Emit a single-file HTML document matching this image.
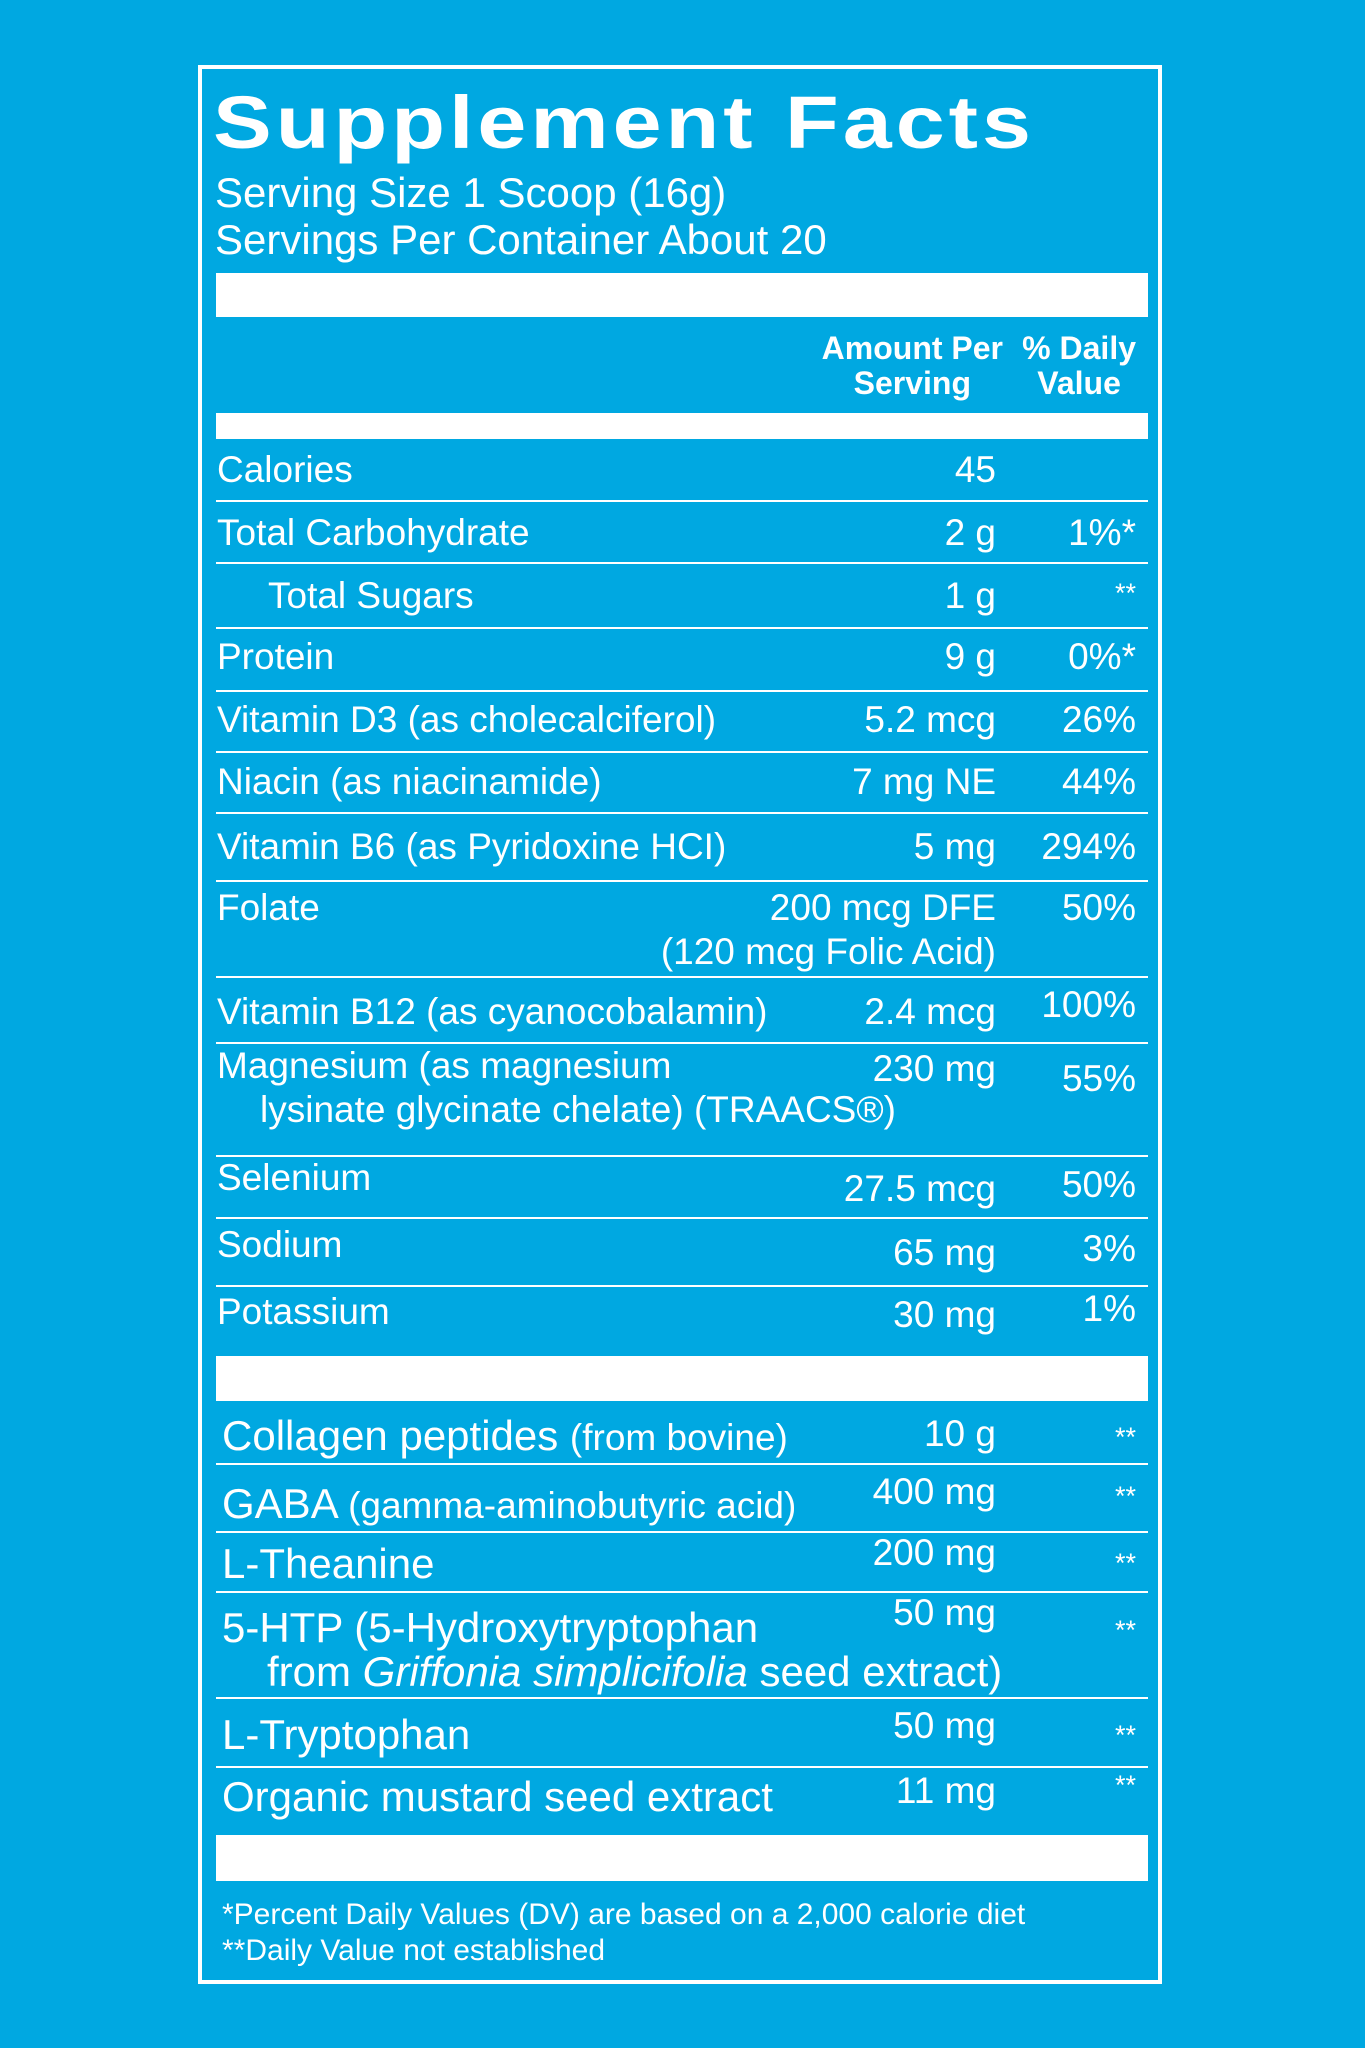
<!DOCTYPE html>
<html><head><meta charset="utf-8"><style>
html,body{margin:0;padding:0}
body{width:1365px;height:2048px;background:#00a8e1;position:relative;overflow:hidden;font-family:"Liberation Sans",Arial,sans-serif;color:#fff}
.frame{position:absolute;left:198px;top:65px;width:956px;height:1911px;border:4px solid #fff}
.bar{position:absolute;left:216px;width:932px;background:#fff}
.ln{position:absolute;left:216px;width:932px;height:2px;background:#fff}
.t{position:absolute;line-height:1;white-space:nowrap}
.u{font-size:37px}
.l{font-size:42px}
.a{right:369px;text-align:right}
.d{right:229px;text-align:right}
.s{font-size:27px}
</style></head><body>
<div class="frame"></div>
<div class="t" style="left:213px;top:86px;font-size:88px;font-weight:bold;letter-spacing:4px;transform:scaleY(0.84);transform-origin:0 0">Supplement Facts</div>
<div class="t l" style="left:215px;top:172px">Serving Size 1 Scoop (16g)</div>
<div class="t l" style="left:215px;top:219px">Servings Per Container About 20</div>
<div class="bar" style="top:273px;height:44px"></div>
<div class="t" style="right:362px;top:331px;font-size:32px;font-weight:bold;text-align:center;line-height:35px">Amount Per<br>Serving</div>
<div class="t" style="right:229px;top:331px;font-size:32px;font-weight:bold;text-align:center;line-height:35px">% Daily<br>Value</div>
<div class="bar" style="top:413px;height:26px"></div>

<div class="t u" style="left:217px;top:451px">Calories</div><div class="t u a" style="top:451px">45</div>
<div class="ln" style="top:500px"></div>
<div class="t u" style="left:217px;top:514px">Total Carbohydrate</div><div class="t u a" style="top:514px">2 g</div><div class="t u d" style="top:514px">1%*</div>
<div class="ln" style="top:562px"></div>
<div class="t u" style="left:268px;top:577px">Total Sugars</div><div class="t u a" style="top:577px">1 g</div><div class="t s d" style="top:580px">**</div>
<div class="ln" style="top:627px"></div>
<div class="t u" style="left:217px;top:638px">Protein</div><div class="t u a" style="top:638px">9 g</div><div class="t u d" style="top:638px">0%*</div>
<div class="ln" style="top:690px"></div>
<div class="t u" style="left:217px;top:701px">Vitamin D3 (as cholecalciferol)</div><div class="t u a" style="top:701px">5.2 mcg</div><div class="t u d" style="top:701px">26%</div>
<div class="ln" style="top:751px"></div>
<div class="t u" style="left:217px;top:763px">Niacin (as niacinamide)</div><div class="t u a" style="top:763px">7 mg NE</div><div class="t u d" style="top:763px">44%</div>
<div class="ln" style="top:812px"></div>
<div class="t u" style="left:217px;top:828px">Vitamin B6 (as Pyridoxine HCI)</div><div class="t u a" style="top:828px">5 mg</div><div class="t u d" style="top:828px">294%</div>
<div class="ln" style="top:880px"></div>
<div class="t u" style="left:217px;top:889px">Folate</div><div class="t u a" style="top:889px">200 mcg DFE</div><div class="t u d" style="top:889px">50%</div>
<div class="t u a" style="top:933px">(120 mcg Folic Acid)</div>
<div class="ln" style="top:976px"></div>
<div class="t u" style="left:217px;top:993px">Vitamin B12 (as cyanocobalamin)</div><div class="t u a" style="top:993px">2.4 mcg</div><div class="t u d" style="top:986px">100%</div>
<div class="ln" style="top:1042px"></div>
<div class="t u" style="left:217px;top:1047px">Magnesium (as magnesium</div><div class="t u a" style="top:1050px">230 mg</div><div class="t u d" style="top:1060px">55%</div>
<div class="t u" style="left:260px;top:1091px">lysinate glycinate chelate) (TRAACS®)</div>
<div class="ln" style="top:1155px"></div>
<div class="t u" style="left:217px;top:1159px">Selenium</div><div class="t u a" style="top:1170px">27.5 mcg</div><div class="t u d" style="top:1166px">50%</div>
<div class="ln" style="top:1217px"></div>
<div class="t u" style="left:217px;top:1226px">Sodium</div><div class="t u a" style="top:1234px">65 mg</div><div class="t u d" style="top:1230px">3%</div>
<div class="ln" style="top:1285px"></div>
<div class="t u" style="left:217px;top:1293px">Potassium</div><div class="t u a" style="top:1296px">30 mg</div><div class="t u d" style="top:1290px">1%</div>
<div class="bar" style="top:1356px;height:45px"></div>

<div class="t l" style="left:222px;top:1415px">Collagen peptides <span style="font-size:37px">(from bovine)</span></div><div class="t u a" style="top:1415px">10 g</div><div class="t s d" style="top:1424px">**</div>
<div class="ln" style="top:1463px"></div>
<div class="t l" style="left:222px;top:1483px">GABA <span style="font-size:37px">(gamma-aminobutyric acid)</span></div><div class="t u a" style="top:1473px">400 mg</div><div class="t s d" style="top:1483px">**</div>
<div class="ln" style="top:1531px"></div>
<div class="t l" style="left:222px;top:1543px">L-Theanine</div><div class="t u a" style="top:1534px">200 mg</div><div class="t s d" style="top:1550px">**</div>
<div class="ln" style="top:1591px"></div>
<div class="t l" style="left:222px;top:1607px">5-HTP (5-Hydroxytryptophan</div><div class="t u a" style="top:1594px">50 mg</div><div class="t s d" style="top:1617px">**</div>
<div class="t l" style="left:267px;top:1651px">from <i>Griffonia simplicifolia</i> seed extract)</div>
<div class="ln" style="top:1697px"></div>
<div class="t l" style="left:222px;top:1714px">L-Tryptophan</div><div class="t u a" style="top:1707px">50 mg</div><div class="t s d" style="top:1722px">**</div>
<div class="ln" style="top:1766px"></div>
<div class="t l" style="left:222px;top:1776px">Organic mustard seed extract</div><div class="t u a" style="top:1772px">11 mg</div><div class="t s d" style="top:1772px">**</div>
<div class="bar" style="top:1835px;height:46px"></div>

<div class="t" style="left:222px;top:1900px;font-size:30px">*Percent Daily Values (DV) are based on a 2,000 calorie diet</div>
<div class="t" style="left:222px;top:1936px;font-size:30px">**Daily Value not established</div>
</body></html>
